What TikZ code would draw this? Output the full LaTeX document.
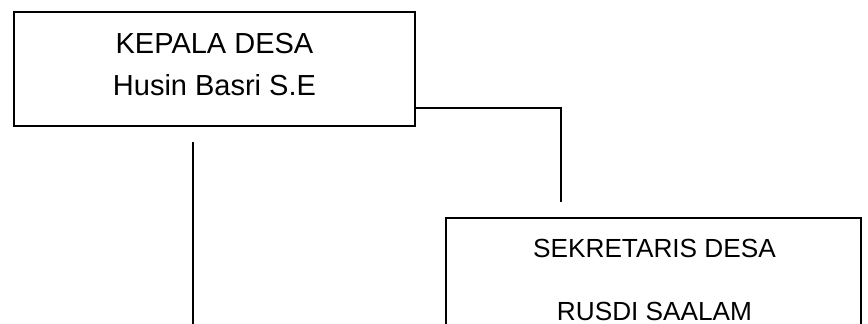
\documentclass[tikz,border=0pt]{standalone}
\usepackage{fontspec}
\setmainfont{Liberation Sans}
\begin{document}
\begin{tikzpicture}[x=1pt,y=-1pt,
  boxstyle/.style={draw=black, line width=2pt, inner sep=0pt},
  conn/.style={draw=black, line width=2pt},
  lbl/.style={inner sep=0pt, anchor=base}]
\useasboundingbox (0,0) rectangle (868,324);
\clip (0,0) rectangle (868,324);
% Kepala desa box
\node[boxstyle, minimum width=401pt, minimum height=114pt] (kepala) at (214.5,69) {};
\node[lbl, font=\fontsize{29}{35}\selectfont] (kt1) at (214.5,53) {KEPALA DESA};
\node[lbl, font=\fontsize{29}{35}\selectfont] (kt2) at (214.5,95) {Husin Basri S.E};
% Sekretaris desa box (cut off at bottom)
\node[boxstyle, minimum width=415pt, minimum height=130pt] (sek) at (653.5,283) {};
\node[lbl, font=\fontsize{26.2}{32}\selectfont] (st1) at (654.5,257) {SEKRETARIS DESA};
\node[lbl, font=\fontsize{26.2}{32}\selectfont] (st2) at (654.5,320) {RUSDI SAALAM};
% connectors
\coordinate (c1) at (561,202);
\draw[conn] (kepala.south east) ++(0,-19) -| (c1);
\coordinate (v1) at (193,142);
\coordinate (v2) at (193,335);
\draw[conn] (v1) -- (v2);
\end{tikzpicture}
\end{document}
